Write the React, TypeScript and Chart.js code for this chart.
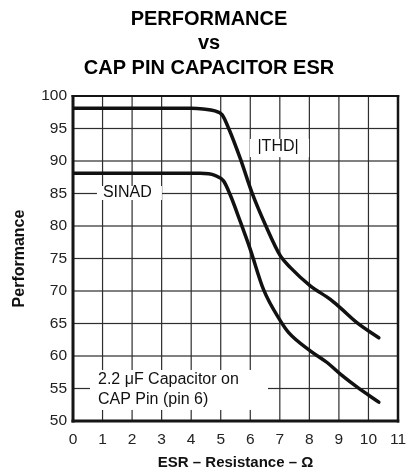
import React, { useEffect, useRef } from "react";
import { Chart, registerables } from "chart.js";

Chart.register(...registerables);

// ---- data ----
const thdX = [0, 1, 2, 3, 4, 4.4, 4.8, 5.05, 5.27, 5.66, 6.06, 6.51, 7.02, 7.36, 8.03, 8.71, 9.05, 9.62, 10.35];
const thdY = [98.1, 98.1, 98.1, 98.1, 98.1, 98.0, 97.7, 97.1, 95.0, 90.4, 85.1, 80.2, 75.4, 73.6, 70.8, 68.7, 67.4, 65.1, 62.8];

const sinadX = [0, 1, 2, 3, 4, 4.3, 4.8, 5.1, 5.32, 5.66, 6.0, 6.45, 7.02, 7.3, 8.03, 8.6, 9.05, 9.62, 10.35];
const sinadY = [88.1, 88.1, 88.1, 88.1, 88.1, 88.1, 87.8, 86.9, 84.8, 80.7, 76.4, 70.2, 65.4, 63.6, 60.8, 59.0, 57.2, 55.2, 52.9];

const xMin = 0;
const xMax = 11;
const yMin = 50;
const yMax = 100;

const titleLines = ["PERFORMANCE", "vs", "CAP PIN CAPACITOR ESR"];
const xTitle = "ESR \u2013 Resistance \u2013 \u03A9";
const yTitle = "Performance";

// in-plot labels, anchored in data units
const thdLabel = ["|THD|"];
const sinadLabel = ["SINAD"];
const capLabel = ["2.2 \u03BCF Capacitor on", "CAP Pin (pin 6)"];

const FONT = '"Liberation Sans", Arial, Helvetica, sans-serif';

const annotations = [
  { lines: thdLabel, x: 6.94, ys: [92.15], box: [5.99, 7.99, 93.4, 90.6], align: "center" },
  { lines: sinadLabel, x: 1.84, ys: [85.08], box: [0.81, 3.01, 86.15, 84.0], align: "center" },
  { lines: capLabel, x: 0.846, ys: [56.3, 53.23], box: [0.575, 6.6, 57.85, 51.7], align: "left" },
];

// grid, frame and label boxes, drawn from the chart's own scales before the curves
const gridAndLabelsPlugin = {
  id: "gridAndLabels",
  beforeDatasetsDraw(chart: any) {
    const { ctx, scales } = chart;
    const xs = scales.x;
    const ys = scales.y;
    const left = xs.getPixelForValue(xMin);
    const right = xs.getPixelForValue(xMax);
    const top = ys.getPixelForValue(yMax);
    const bottom = ys.getPixelForValue(yMin);
    ctx.save();
    ctx.globalCompositeOperation = "source-over";
    ctx.globalAlpha = 1;
    ctx.shadowColor = "rgba(0,0,0,0)";
    ctx.shadowBlur = 0;

    // grid lines
    ctx.fillStyle = "#2e2e2e";
    for (const t of xs.ticks) {
      const px = xs.getPixelForValue(t.value);
      ctx.fillRect(px - 0.6, top, 1.2, bottom - top);
    }
    for (const t of ys.ticks) {
      const py = ys.getPixelForValue(t.value);
      ctx.fillRect(left, py - 0.6, right - left, 1.2);
    }

    // frame: heavy left/bottom axes, medium top/right
    ctx.fillStyle = "#151515";
    ctx.fillRect(left - 1.5, top - 1, right - left + 2.75, 2);
    ctx.fillRect(right - 1.25, top - 1, 2.5, bottom - top + 2.5);
    ctx.fillRect(left - 1.5, top - 1, 3, bottom - top + 2.5);
    ctx.fillRect(left - 1.5, bottom - 1.5, right - left + 2.75, 3);

    // label boxes
    for (let k = 0; k < annotations.length; k++) {
      const a = annotations[k];
      const x0 = xs.getPixelForValue(a.box[0]);
      const x1 = xs.getPixelForValue(a.box[1]);
      const y0 = ys.getPixelForValue(a.box[2]);
      const y1 = ys.getPixelForValue(a.box[3]);
      ctx.fillStyle = "#ffffff";
      ctx.fillRect(x0, y0, x1 - x0, y1 - y0);
      ctx.fillStyle = "#111111";
      ctx.font = `16px ${FONT}`;
      ctx.textAlign = a.align;
      ctx.textBaseline = "middle";
      for (let i = 0; i < a.lines.length; i++) {
        ctx.fillText(a.lines[i], xs.getPixelForValue(a.x), ys.getPixelForValue(a.ys[i]));
      }
    }
    ctx.restore();
  },
};

function makeDataset(xs: number[], ys: number[]) {
  return {
    data: xs.map((x, i) => ({ x, y: ys[i] })),
    borderColor: "#111111",
    borderWidth: 3.5,
    pointRadius: 0,
    cubicInterpolationMode: "monotone",
    borderCapStyle: "round",
    fill: false,
  };
}

function ChartView() {
  const ref = useRef<HTMLCanvasElement | null>(null);
  useEffect(() => {
    if (!ref.current) return;
    const chart = new Chart(ref.current, {
      type: "line",
      data: {
        datasets: [makeDataset(thdX, thdY), makeDataset(sinadX, sinadY)] as any,
      },
      options: {
        animation: false,
        responsive: false,
        layout: { padding: { left: 9, right: 0, top: 0, bottom: 0 } },
        plugins: {
          legend: { display: false },
          tooltip: { enabled: false },
          title: {
            display: true,
            text: titleLines,
            color: "#000",
            font: { family: FONT, size: 20, weight: "bold", lineHeight: 1.225 },
            padding: { top: 6.75, bottom: 15.75 },
          },
        },
        scales: {
          x: {
            type: "linear",
            min: xMin,
            max: xMax,
            ticks: { stepSize: 1, color: "#222", font: { family: FONT, size: 15.5 }, padding: 9, maxRotation: 0, autoSkip: false },
            grid: { display: false, drawTicks: false },
            border: { display: false },
            title: { display: true, text: xTitle, color: "#111", font: { family: FONT, size: 15, weight: "bold" }, padding: { top: 0, bottom: 0 } },
            afterFit: (s: any) => {
              s.height = 51;
              s.paddingRight = 11;
            },
          },
          y: {
            type: "linear",
            min: yMin,
            max: yMax,
            ticks: { stepSize: 5, color: "#222", font: { family: FONT, size: 15.5 }, padding: 6 },
            grid: { display: false, drawTicks: false },
            border: { display: false },
            title: { display: true, text: yTitle, color: "#111", font: { family: FONT, size: 16, weight: "bold" }, padding: { top: 0.5, bottom: 0 } },
            afterFit: (s: any) => {
              s.width = 64;
            },
          },
        },
      },
      plugins: [gridAndLabelsPlugin],
    });
    return () => chart.destroy();
  }, []);
  return <canvas ref={ref} width={409} height={472} style={{ display: "block", position: "absolute", left: 0, top: 0 }} />;
}

export default function App() {
  return (
    <div style={{ position: "absolute", left: 0, top: 0, width: 409, height: 472, background: "#fff" }}>
      <ChartView />
    </div>
  );
}
